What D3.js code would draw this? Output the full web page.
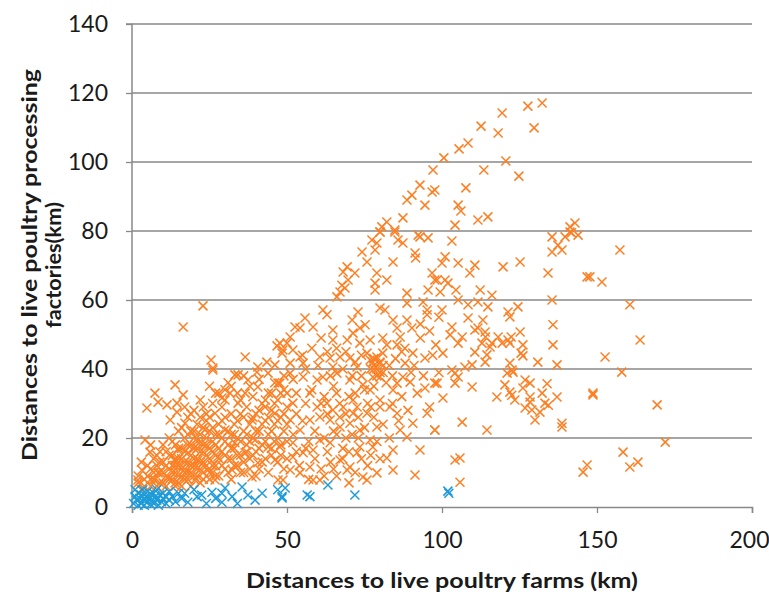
<!DOCTYPE html>
<html><head><meta charset="utf-8">
<script src="https://cdn.jsdelivr.net/npm/d3@7"></script>
<style>body{margin:0;background:#fff}</style></head>
<body>
<svg id="c" width="769" height="597"></svg>
<script>
const xTicks=[0,50,100,150,200];
const yTicks=[0,20,40,60,80,100,120,140];
const xTitle="Distances to live poultry farms (km)";
const yTitleLines=["Distances to live poultry processing","factories(km)"];

// orange series: [farm distance, factory distance]
const seriesOrange=[
[26.1,39.7],[33.2,38.3],[13.9,35.4],[7.4,33.0],[16.5,32.5],[8.4,30.4],[11.3,29.6],[14.5,30.1],[4.8,28.7],[14.5,27.5],[12.3,25.2],[17.1,24.3],[26.8,27.2],[29.0,31.6],[31.6,33.0],[37.4,36.8],[36.5,33.0],[40.6,34.8],[43.9,38.8],[47.1,35.9],[34.2,30.1],[42.9,29.0],[46.1,27.2],[38.7,25.2],[23.5,22.3],[20.3,20.3],[30.0,22.3],[33.2,18.6],[39.7,19.4],[43.9,17.4],[4.2,19.4],[5.8,15.9],[14.8,16.5],[18.1,15.7],[13.9,13.6],[21.3,13.6],[27.7,14.5],[36.5,15.7],[40.6,12.8],[46.1,13.6],[24.5,10.7],[32.3,10.7],[38.7,8.7],[47.1,7.8],[3.2,10.7],[8.4,9.9],[11.6,8.7],[17.1,9.9],[20.3,7.8],[26.8,7.8],[7.4,7.8],[13.9,7.0],[1.9,7.8],
[5,9],[6,11],[7,8],[8,12],[9,10],[10,7],[10,13],[11,9],[12,11],[12,15],[13,8],[13,12],[14,10],[14,14],[15,7],[15,12],[15,17],[16,9],[16,14],[17,11],[17,16],[17,20],[18,8],[18,13],[18,18],[19,10],[19,15],[19,22],[20,12],[20,17],[21,9],[21,14],[21,19],[21,24],[22,11],[22,16],[22,21],[23,13],[23,18],[23,8],[24,15],[24,20],[24,25],[25,10],[25,17],[25,22],[26,12],[26,19],[27,15],[27,21],[27,9],[28,17],[28,24],[29,12],[29,20],[30,15],[30,26],[31,18],[31,10],[32,21],[32,14],[33,24],[33,17],[34,12],[34,20],[35,27],[35,15],[36,22],[36,10],[37,18],[37,29],[38,14],[38,24],[39,20],[39,32],[40,16],[40,27],[41,11],[41,22],[42,30],[42,18],[43,25],[43,14],[44,33],[44,21],[45,28],[45,17],[46,24],[46,36],[47,20],[47,31],[48,26],[48,15],[49,22],[49,34],[50,19],[50,29],[3,5],[4,8],[2,7],[6,6],[8,6],[11,6],[9,16],[7,14],[13,19],[16,23],[18,26],[20,28],[22,31],[24,27],[26,30],[28,33],[30,31],[32,35],[34,33],[29,29],[31,36],
[2,9],[3,13],[4,6],[5,12],[6,8],[6,18],[7,10],[8,15],[9,7],[9,13],[10,10],[10,18],[11,12],[11,16],[12,8],[12,20],[13,10],[13,15],[14,6],[14,12],[14,18],[15,9],[15,14],[15,22],[16,11],[16,17],[16,6],[17,13],[17,8],[18,10],[18,21],[19,12],[19,18],[19,6],[20,9],[20,14],[20,22],[21,11],[21,17],[22,7],[22,13],[22,19],[23,10],[23,16],[23,23],[24,12],[24,18],[25,8],[25,14],[25,26],[26,10],[26,16],[26,23],[27,12],[27,18],[28,9],[28,14],[28,21],[29,16],[29,25],[30,11],[30,19],[31,14],[31,22],[32,8],[32,17],[32,27],[33,12],[33,21],[34,15],[34,25],[35,10],[35,19],[36,13],[36,26],[37,16],[37,21],[38,11],[38,19],[39,15],[39,26],[40,9],[40,22],[41,17],[41,28],[42,13],[42,24],[43,19],[43,31],[44,10],[44,26],[45,15],[45,22],[46,19],[46,30],[47,13],[47,25],[48,18],[48,33],[49,11],[49,27],[50,14],[50,24],[25,35],[27,33],[35,31],[38,35],[41,37],[45,33],[49,38],[36,38],[30,34],[22,26],[19,27],[17,29],[23,29],
[47.7,35.9],[51,38.8],[55.2,37.7],[59.7,36.8],[61.6,37.7],[66.1,38.8],[70.3,36.8],[74.5,35.4],[76.8,33.9],[80,37.7],[77.7,37.7],[85.5,35.9],[87.4,37.7],[89.7,36.2],[84.2,33.9],[94.5,34.5],[98.4,35.9],[50,33.0],[57.4,33.0],[51.9,30.1],[59.7,29.0],[62.9,30.1],[64.8,28.1],[68.1,29.0],[71.3,31.0],[71.3,27.2],[72.6,29],[75.8,27.2],[79,23.2],[80,29],[83.2,29],[85.5,27.2],[90.6,24.3],[86.5,22.3],[88.7,20.3],[95.2,27.2],[97.7,22.3],[51,25.2],[54.2,22.3],[57.4,25.2],[60.6,26.1],[63.9,25.2],[67.1,23.2],[70.3,24.3],[73.5,22.3],[47.7,17.4],[51.9,18.6],[55.2,15.7],[58.4,16.5],[60.6,19.4],[63.9,18.6],[67.1,13.6],[70.3,11.6],[72.6,15.7],[73.5,17.4],[76.8,19.4],[77.7,17.4],[84.2,16.5],[82.2,14.2],[92.9,16.5],[84.2,10.7],[91.3,9.3],[75.8,7.8],[79,9.9],[74.5,8.7],[69.4,10.7],[51.9,14.5],[51,10.7],[54.2,9.9],[58.4,7.8],[60.6,7.8],[57.4,11.6],[48.7,7.8],
[53,27],[56,30],[58,34],[62,32],[65,35],[67,30],[69,27],[72,33],[74,38],[76,30],[78,26],[66,21],[63,16],[68,17],[73,20],[76,12],[80,14],[70,7],[65,11],[62,9],[57,19],[53,16],[52,37],[56,40],[60,41],[64,38],[68,40],[72,42],[78,40],[81,39],[83,41],[77,40],[78,41],[79,40],[80,42],[79,38],[81,41],[78,43],[80,39],
[52,21],[54,12],[55,25],[56,17],[57,8],[59,22],[59,14],[61,30],[61,11],[62,20],[63,27],[64,13],[65,22],[66,33],[66,9],[67,26],[68,14],[69,20],[70,32],[70,16],[71,21],[72,10],[73,26],[74,14],[75,34],[75,23],[77,29],[77,15],[78,35],[79,19],[80,31],[81,24],[82,36],[83,20],[84,30],[85,43],[86,25],[87,32],[88,46],[89,28],[90,39],[92,33],[93,49],[94,38],[96,29],[97,44],[99,39],[53,33],[55,44],[58,46],[61,49],[63,45],[66,46],[69,45],[71,38],[74,44],[84,38],[87,45],[91,41],[93,53],[96,51],[98,47],[99,55],
[97.7,35.9],[104.2,38.8],[105.2,37.7],[104.2,35.9],[109.7,34.8],[100.3,31.6],[106.5,24.6],[114.5,22.3],[97.7,22.3],[121,38.8],[122.9,39.1],[120.3,35.4],[117.7,31.9],[121.9,33.3],[122.5,32.4],[123.5,31],[126.8,36.8],[128.4,35.9],[126.1,34.5],[128.4,31.9],[128.4,30.4],[126.8,28.7],[129,28.1],[130,25.2],[131.6,27.5],[132.3,33.0],[133.9,35.7],[133.2,30.1],[134.3,29.5],[137.1,31.9],[138.7,24.3],[138.7,23.2],[148.7,32.5],[104.2,13.6],[105.8,14.2],[105.8,7.2],[146.8,12.2],[145.5,10.1],
[158,39.1],[148.7,33],[169.4,29.6],[172,18.8],[158.4,15.9],[163.2,13.0],[160.6,11.6],
[22.9,58.3],[16.5,52.2],[25.5,42.6],[26.1,40.3],[36.5,43.5],[46.8,46.7],[48.4,44.6],[40.6,40.6],[43.5,42],[46.1,41.2],[40.3,39.1],[34.2,38.3],
[80,79.7],[84.8,79.7],[85.8,77.4],[87.4,76.5],[77.4,77.4],[79,76.5],[74.2,73.9],[78.4,74.5],[75.8,71],[84.2,71],[92.9,78.3],[95.5,78],[91.3,73.6],[91.5,72.2],[69.4,69.6],[68.1,68.1],[71.9,67.8],[69.7,65.8],[67.7,64.3],[68.7,63.5],[67.1,62.3],[66.1,60.9],[79,67.8],[82.2,65.8],[78.4,64.9],[78.4,62.9],[96.8,67.8],[98.4,65.8],[95.5,62.9],[88.7,62],[88.7,59.1],[93.9,59.4],[95.2,57.1],[95.2,55.7],[61.6,57.1],[62.9,55.7],[72.9,56.5],[80,57.7],[81.6,57.1],[55.8,54.8],[52.6,52.2],[54.2,51.9],[58.4,52.2],[51,49.3],[50,47.5],[64.8,51.3],[71,54.2],[75.2,52.8],[73.5,51.9],[84.2,54.2],[88.7,54.2],[90.3,51.9],[85.5,51.9],[64.8,48.4],[71.3,50.4],[69.4,48.4],[73.5,47.5],[76.8,48.4],[80.9,49],[82.2,47],[86.5,49.3],[85.5,47],[90.6,44.6],[94.5,43.2],[60.6,43.5],[63.9,43.2],[67.1,43.5],[70.3,43.2],[75.8,44.6],[76.8,42.6],[79,43.5],[77.7,42],[80,41.7],[80.9,44.6],[88.1,41.7],[47.7,47.5],[48.7,45.5],[51.9,45.5],[54.2,43.5],[51,41.7],[55.2,41.7],[64.8,40.6],[72.6,40.6],
[103.2,77.1],[135.5,78.3],[141.3,79.7],[143.9,78.8],[139.7,78.3],[137.4,75.9],[135.5,73.9],[138.7,74.5],[101,72.5],[100,70.7],[105.2,70.7],[110.6,70.1],[109,67.8],[119.7,69.6],[125.2,71],[134.2,67.8],[146.8,66.7],[97.7,65.8],[101,65.8],[101.9,64.9],[99.4,62.3],[104.5,62.9],[112.3,62.9],[116.1,61.4],[105.2,60],[108.4,58.6],[111.6,59.4],[114.8,58],[100,57.1],[108.4,54.8],[113.2,54.2],[121.3,56.5],[124.5,58],[121.9,55.1],[135.5,60],[103.2,52.2],[102.6,49.9],[106.5,49.3],[110.6,51.3],[111.6,51.9],[113.9,50.7],[114,49.3],[112.9,47.5],[116.1,47.5],[118.1,49.3],[121.3,48.4],[122.3,49.3],[125.2,50.7],[115.5,46.4],[119.4,47.5],[121.9,47.5],[126.1,47],[135.8,52.8],[135.8,47],[105.2,47.5],[100.3,44.6],[110.6,44.9],[114.5,44.1],[113.9,42],[109.7,41.2],[107.4,40.6],[126.1,43.8],[125.5,44.6],[130.9,42],[137.1,41.2],[121.9,41.7],[122.6,39.7],[103.2,39.7],
[157.4,74.5],[147.7,66.7],[151.6,65.2],[160.6,58.6],[163.9,48.4],[152.6,43.5],
[97.1,97.7],[92.9,93.3],[96.8,91.3],[90.3,90.4],[88.7,89],[94.5,87.5],[87.4,83.8],[82.2,82.6],[80.6,81.2],[84.8,80.3],[92.3,78.8],[80,79.7],
[132.3,117.1],[127.7,116.2],[119.4,114.2],[112.6,110.4],[118.1,108.4],[129.7,109.9],[108.4,105.5],[105.5,103.8],[100.6,101.2],[120.6,100.3],[113.5,97.7],[124.8,95.9],[107.7,92.5],[97.7,91.9],[105.2,87.5],[106.1,85.8],[114.8,84.1],[111.6,83.2],[104.2,81.7],[141.3,81.2],[142.9,82.3],[141.8,79.5]
];

// blue series
const seriesBlue=[
[0.5,1],[1,3],[1,5],[1.5,2],[2,0.5],[2,4],[2.5,2.5],[3,1],[3,3.5],[3.5,5],[4,2],[4,0.5],[4.5,3],[5,1.5],[5,4.5],[5.5,2.5],[6,0.8],[6,3.8],[6.5,2],[7,4],[7,1],[7.5,3],[8,2],[8,5],[8.5,0.5],[9,3.5],[9.5,1.5],[10,4],[10,2.5],[11,1],[11,3],[12,2],[12,4.5],[13,3],[14,1.5],[15,4],[16,2.5],[17,4],[18,1.4],[20,5],[21,3],[22.5,3.5],[24,1],[25.8,4.3],[27,2.5],[29,4],[29,1.4],[30,5.5],[32.3,3],[34,1],[35.5,5.8],[37.4,3.5],[39.7,2],[42,4],[47,5],[48.4,3],[49.4,5.5],[48.4,2.6],[56.5,3.5],[57.4,3],[63.2,6.4],[71.9,3.5],[101.9,4.6],[102.2,4.0]
];

const svg=d3.select('#c');
const x=d3.scaleLinear().domain([0,200]).range([132,752]);
const y=d3.scaleLinear().domain([0,140]).range([507,24]);
const gridCol='#898989';
const textCol='#1a1a1a';
const tf='Lato, "Open Sans", sans-serif';

// gridlines
svg.append('g').selectAll('line').data(yTicks.filter(d=>d>0)).join('line')
  .attr('x1',x(0)).attr('x2',x(200)).attr('y1',d=>y(d)).attr('y2',d=>y(d))
  .attr('stroke',gridCol).attr('stroke-width',1.3);

// axes
const yAxis=d3.axisLeft(y).tickValues(yTicks).tickSize(6).tickPadding(18);
const xAxis=d3.axisBottom(x).tickValues(xTicks).tickSize(6).tickPadding(19);
const gy=svg.append('g').attr('transform',`translate(${x(0)},0)`).call(yAxis);
const gx=svg.append('g').attr('transform',`translate(0,${y(0)})`).call(xAxis);
[gx,gy].forEach(g=>{
  g.select('.domain').attr('stroke',gridCol).attr('stroke-width',1.5);
  g.selectAll('.tick line').attr('stroke',gridCol).attr('stroke-width',1.3);
  g.selectAll('.tick text').attr('font-family',tf).attr('font-size',23).attr('fill',textCol);
});
gy.select('.domain').attr('d',`M-6,${y(140)}H0V${y(0)}`);
gx.selectAll('.tick text').filter(d=>d===200).attr('dx',-3);

// markers
const cross='M-4.5,-4.5L4.5,4.5M-4.5,4.5L4.5,-4.5';
svg.append('g').selectAll('path').data(seriesOrange).join('path')
  .attr('d',cross).attr('transform',d=>`translate(${x(d[0])},${y(d[1])})`)
  .attr('stroke','#FB8025').attr('stroke-width',1.5).attr('fill','none');
svg.append('g').selectAll('path').data(seriesBlue).join('path')
  .attr('d',cross).attr('transform',d=>`translate(${x(d[0])},${y(d[1])})`)
  .attr('stroke','#1E9BD8').attr('stroke-width',1.5).attr('fill','none');

// titles
svg.append('text').text(xTitle).attr('x',442).attr('y',588)
  .attr('text-anchor','middle').attr('font-family',tf).attr('font-weight','bold')
  .attr('font-size',21).attr('fill',textCol)
  .attr('textLength',392).attr('lengthAdjust','spacingAndGlyphs');
svg.append('text').text(yTitleLines[0]).attr('transform','translate(37,265) rotate(-90)')
  .attr('text-anchor','middle').attr('font-family',tf).attr('font-weight','bold')
  .attr('font-size',20).attr('fill',textCol)
  .attr('textLength',392).attr('lengthAdjust','spacingAndGlyphs');
svg.append('text').text(yTitleLines[1]).attr('transform','translate(61,265) rotate(-90)')
  .attr('text-anchor','middle').attr('font-family',tf).attr('font-weight','bold')
  .attr('font-size',20).attr('fill',textCol)
  .attr('textLength',126).attr('lengthAdjust','spacingAndGlyphs');
</script>
</body></html>
